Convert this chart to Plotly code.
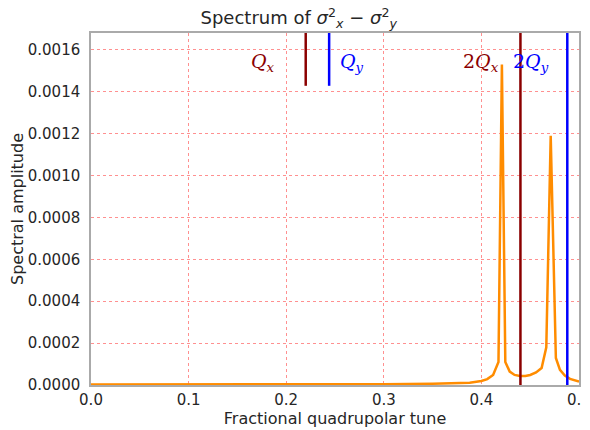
import plotly.graph_objects as go

# Spectrum data (fractional quadrupolar tune vs spectral amplitude)
tune = [0.0, 0.1, 0.2, 0.3, 0.35, 0.375, 0.388, 0.400, 0.406, 0.412, 0.4175,
        0.421, 0.4245, 0.429, 0.434, 0.4395, 0.445, 0.450, 0.456, 0.4617,
        0.4665, 0.471, 0.4763, 0.4805, 0.4855, 0.4908, 0.4977, 0.5]
amplitude = [0.000002, 0.000002, 0.000003, 0.000004, 0.000006, 0.000009,
             0.000011, 0.000019, 0.000028, 0.000048, 0.00011,
             0.00153, 0.00011, 0.000064, 0.000048, 0.000043, 0.000043,
             0.000048, 0.000060, 0.000081,
             0.00018, 0.00119, 0.000129, 0.000072, 0.000045, 0.000029,
             0.000019, 0.000016]

Qx = 0.22
Qy = 0.244
x_ticks = [0.0, 0.1, 0.2, 0.3, 0.4, 0.5]
y_ticks = [0.0, 0.0002, 0.0004, 0.0006, 0.0008, 0.0010, 0.0012, 0.0014, 0.0016]

RED = "#8b0000"
BLUE = "#0000ff"
GRID = "rgba(255,70,70,0.6)"

fig = go.Figure()
fig.add_trace(go.Scatter(x=tune, y=amplitude, mode="lines",
                         line=dict(color="#ff8c00", width=2.5),
                         showlegend=False, hoverinfo="x+y"))

# Tune lines
fig.add_shape(type="line", x0=Qx, x1=Qx, xref="x", yref="y domain", y0=0.85, y1=1,
              line=dict(color=RED, width=2.5))
fig.add_shape(type="line", x0=Qy, x1=Qy, xref="x", yref="y domain", y0=0.85, y1=1,
              line=dict(color=BLUE, width=2.5))
fig.add_shape(type="line", x0=2 * Qx, x1=2 * Qx, xref="x", yref="y domain", y0=0, y1=1,
              line=dict(color=RED, width=2.5))
fig.add_shape(type="line", x0=2 * Qy, x1=2 * Qy, xref="x", yref="y domain", y0=0, y1=1,
              line=dict(color=BLUE, width=2.5))

serif = dict(family="DejaVu Serif", size=19)
labels = [
    (Qx - 0.044, "<i>Q</i><sub><i>x</i></sub>", RED),
    (Qy + 0.023, "<i>Q</i><sub><i>y</i></sub>", BLUE),
    (2 * Qx - 0.0405, "2<i>Q</i><sub><i>x</i></sub>", RED),
    (2 * Qy - 0.037, "2<i>Q</i><sub><i>y</i></sub>", BLUE),
]
for xv, txt, col in labels:
    fig.add_annotation(x=xv, y=0.00154, xref="x", yref="y", text=txt,
                       showarrow=False, font=dict(serif, color=col),
                       xanchor="center", yanchor="middle")

fig.update_layout(
    width=582, height=422,
    margin=dict(l=83, r=11, t=25, b=45),
    paper_bgcolor="white", plot_bgcolor="white",
    font=dict(family="DejaVu Sans", size=15, color="#262626"),
    title=dict(text="Spectrum of <i>σ</i><sup>2</sup><sub><i>x</i></sub> − <i>σ</i><sup>2</sup><sub><i>y</i></sub>",
               x=0.4256, xref="paper", xanchor="center",
               y=1 - 10 / 422, yref="container", yanchor="middle",
               font=dict(family="DejaVu Sans", size=18, color="#262626")),
    xaxis=dict(range=[0, 0.5], tickvals=x_ticks, ticktext=[f"{v:.1f}" for v in x_ticks],
               showgrid=True, gridcolor=GRID, griddash="dot", gridwidth=1,
               showline=True, linecolor="#aaaaaa", linewidth=1.5, mirror=True,
               zeroline=False, ticks="", ticklen=0, automargin=False,
               ticklabeloverflow="allow",
               title=dict(text="Fractional quadrupolar tune", font=dict(size=16), standoff=5)),
    yaxis=dict(range=[0, 0.00168], tickvals=y_ticks, ticktext=[f"{v:.4f}" for v in y_ticks],
               showgrid=True, gridcolor=GRID, griddash="dot", gridwidth=1,
               showline=True, linecolor="#aaaaaa", linewidth=1.5, mirror=True,
               zeroline=False, ticks="", ticklen=0, automargin=False,
               ticklabelstandoff=6, ticklabeloverflow="allow",
               title=dict(text="Spectral amplitude", font=dict(size=16), standoff=3)),
)

fig.write_html("out.html")
